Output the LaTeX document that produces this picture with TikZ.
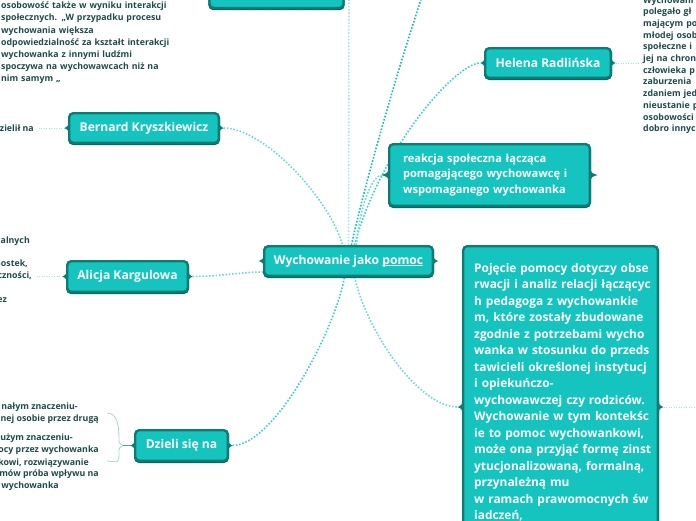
\documentclass[tikz,border=0pt]{standalone}
\usepackage{fontspec}
\setmainfont{Open Sans}
\usetikzlibrary{calc,backgrounds}
\definecolor{tfill}{HTML}{15C4BE}
\definecolor{tborder}{HTML}{0E7B74}
\definecolor{tshadow}{HTML}{0A6560}
\definecolor{tdark}{HTML}{1F4B4A}
\definecolor{lnD}{HTML}{17BDB6}
\definecolor{lnM}{HTML}{3FCFCB}
\definecolor{lnL}{HTML}{6CDAD7}
\definecolor{lnV}{HTML}{A9E6EA}
\definecolor{lnS}{HTML}{A6E2E6}
\definecolor{brc}{HTML}{A9D3D3}
\definecolor{ulc}{HTML}{D6F3F2}
\newcommand\myul[1]{\setbox0\hbox{#1}\rlap{\color{ulc}\rule[-1.6pt]{\wd0}{0.8pt}}\box0}
\newcommand\mynotch[3]{%
  \fill[tborder] ($(#1.west)+(0.8,-#2)$) .. controls ($(#1.west)+(0,-2)$) .. ($(#1.west)+(-#3,0)$)
     .. controls ($(#1.west)+(0,2)$) .. ($(#1.west)+(0.8,#2)$) -- cycle;
  \fill[tborder] ($(#1.east)+(-0.8,-#2)$) .. controls ($(#1.east)+(0,-2)$) .. ($(#1.east)+(#3,0)$)
     .. controls ($(#1.east)+(0,2)$) .. ($(#1.east)+(-0.8,#2)$) -- cycle;}
\tikzset{
  mbox/.style={rectangle, rounded corners=4pt, fill=tfill, draw=tborder, line width=2.4pt,
    text=white, font=\bfseries\fontsize{12.1}{14}\selectfont, inner sep=0pt,
    preaction={draw=tshadow, line width=2.4pt, transform canvas={yshift=-1pt}}},
  sidetxt/.style={text=tdark, font=\bfseries\fontsize{8.8}{12.2}\selectfont, inner sep=0pt, align=left},
  conn/.style={line width=1.6pt, dash pattern=on 1.6pt off 1.7pt},
  sconn/.style={line width=1pt, dash pattern=on 1pt off 1.5pt, lnS},
}
\begin{document}
\begin{tikzpicture}[x=1pt,y=-1pt]
\useasboundingbox (0,0) rectangle (696,520);
% boxes
\node[mbox, minimum width=134pt, minimum height=40pt] (topbox) at (276.5,-12) {};
\node[mbox, minimum width=168.6pt, minimum height=29.6pt] (c) at (348.5,261) {Wychowanie jako \myul{pomoc}};
\node[mbox, minimum width=149.6pt, minimum height=29.6pt] (bern) at (144,128) {Bernard Kryszkiewicz};
\node[mbox, minimum width=120.6pt, minimum height=30.6pt] (ali) at (127.5,276.5) {Alicja Kargulowa};
\node[mbox, minimum width=92.6pt, minimum height=30.6pt] (dz) at (181.5,445.5) {Dzieli się na};
\node[mbox, minimum width=125.6pt, minimum height=29.6pt] (hel) at (548,63) {Helena Radlińska};
\node[mbox, minimum width=200.6pt, minimum height=61.6pt, text width=173pt, inner xsep=13.8pt, align=left,
  font=\bfseries\fontsize{11.1}{15.5}\selectfont] (rea) at (489.5,175)
  {reakcja społeczna łącząca\\pomagającego wychowawcę i\\wspomaganego wychowanka};
\node[mbox, minimum width=194.6pt, minimum height=321.6pt] (poj) at (560.5,407) {};
\node[anchor=base west, inner sep=0pt, text width=190pt, align=left, text=white,
  font=\bfseries\fontsize{11.9}{16.5}\selectfont] (pojtxt) at (474,272)
  {Pojęcie pomocy dotyczy obse\\rwacji i analiz relacji łączącyc\\h pedagoga z wychowankie\\m, które zostały zbudowane\\zgodnie z potrzebami wycho\\wanka w stosunku do przeds\\tawicieli określonej instytucj\\i opiekuńczo-\\wychowawczej czy rodziców.\\Wychowanie w tym kontekśc\\ie to pomoc wychowankowi,\\może ona przyjąć formę zinst\\ytucjonalizowaną, formalną,\\przynależną mu\\w ramach prawomocnych św\\iadczeń,};
% notches
\mynotch{c}{6}{4}
\mynotch{bern}{6}{3.5}
\mynotch{ali}{6}{3.5}
\mynotch{dz}{6}{3.5}
\mynotch{hel}{6}{3.5}
\mynotch{rea}{9}{6.5}
\mynotch{poj}{10}{4.5}
% side texts
\node[sidetxt, anchor=base west, text width=220pt] (tl) at (1,8.6)
  {osobowość także w wyniku interakcji\\społecznych. „W przypadku procesu\\wychowania większa\\odpowiedzialność za kształt interakcji\\wychowanka z innymi ludźmi\\spoczywa na wychowawcach niż na\\nim samym „};
\node[sidetxt, anchor=base east] (bt) at (34,131) {dzielił na};
\node[sidetxt, anchor=base east] (at1) at (30,243.8) {alnych};
\node[sidetxt, anchor=base east] (at2) at (28,266) {nostek,};
\node[sidetxt, anchor=base east] (at3) at (32,278.2) {czności,};
\node[sidetxt, anchor=base east] (at4) at (7,302.6) {ez};
\node[sidetxt, anchor=base east] (d1) at (78,409.8) {nałym znaczeniu-};
\node[sidetxt, anchor=base east] (d2) at (99,421.5) {nej osobie przez drugą};
\node[sidetxt, anchor=base east] (d3) at (73,440.8) {użym znaczeniu-};
\node[sidetxt, anchor=base east] (d4) at (99,452.9) {ocy przez wychowanka};
\node[sidetxt, anchor=base east] (d5) at (89,465) {kowi, rozwiązywanie};
\node[sidetxt, anchor=base east] (d6) at (99,476.8) {mów próba wpływu na};
\node[sidetxt, anchor=base east] (d7) at (59,488.9) {wychowanka};
\node[sidetxt, anchor=base west, text width=100pt, font=\bfseries\fontsize{8.8}{11.7}\selectfont] (ht) at (643,3)
  {Wychowani\\polegało gł\\mającym po\\młodej osob\\społeczne i\\jej na chron\\człowieka p\\zaburzenia\\zdaniem jed\\nieustanie p\\osobowości\\dobro innyc};
% free ends
\coordinate (topV) at (349,-5);
\coordinate (upR) at (431,-30);
\coordinate (bl) at (39,128);
\coordinate (al) at (37,276.5);
\coordinate (hr) at (641,63);
\coordinate (pr) at (700,407);
\coordinate (brtip) at (123,445.5);
% connectors
\begin{scope}[on background layer]
\draw[conn, lnV] (c.north) -- (topV);
\draw[conn, lnD] ($(c.north)+(3,0)$) .. controls (362,195) and (398,65) .. (upR);
\draw[conn, lnM] ($(c.north)+(6,0)$) .. controls (380,150) and (455,63) .. ($(hel.west)+(-3.5,0)$);
\draw[conn, lnL] ($(c.north)+(8,0)$) .. controls (360,205) and (372,176) .. ($(rea.west)+(-6.5,0)$);
\draw[conn, lnL] ($(bern.east)+(3.5,0)$) .. controls (265,128) and (330,200) .. ($(c.north)+(-6,0)$);
\draw[conn, lnL] ($(ali.east)+(3.5,0)$) .. controls (220,276.5) and (240,272) .. ($(c.west)+(0,11)$);
\draw[conn, lnM] ($(dz.east)+(3.5,0)$) .. controls (275,445) and (335,330) .. ($(c.south)+(-4,0)$);
\draw[conn, lnL] ($(c.south)+(6,0)$) .. controls (368,335) and (420,407) .. ($(poj.west)+(-4.5,0)$);
\draw[sconn] ($(bern.west)+(-3.5,0)$) -- (bl);
\draw[sconn] ($(ali.west)+(-3.5,0)$) -- (al);
\draw[sconn] ($(hel.east)+(3.5,0)$) -- (hr);
\draw[sconn] ($(poj.east)+(4.5,0)$) -- (pr);
\draw[brc, line width=0.8pt] (107,413) .. controls (117,413) and (119,425) .. (119,439)
  .. controls (119,443) .. (brtip) .. controls (119,448) .. (119,452)
  .. controls (119,466) and (117,461) .. (107,461);
\draw[tborder!70, line width=0.8pt] (brtip) -- ($(dz.west)+(-3.5,0)$);
\end{scope}
\end{tikzpicture}
\end{document}
